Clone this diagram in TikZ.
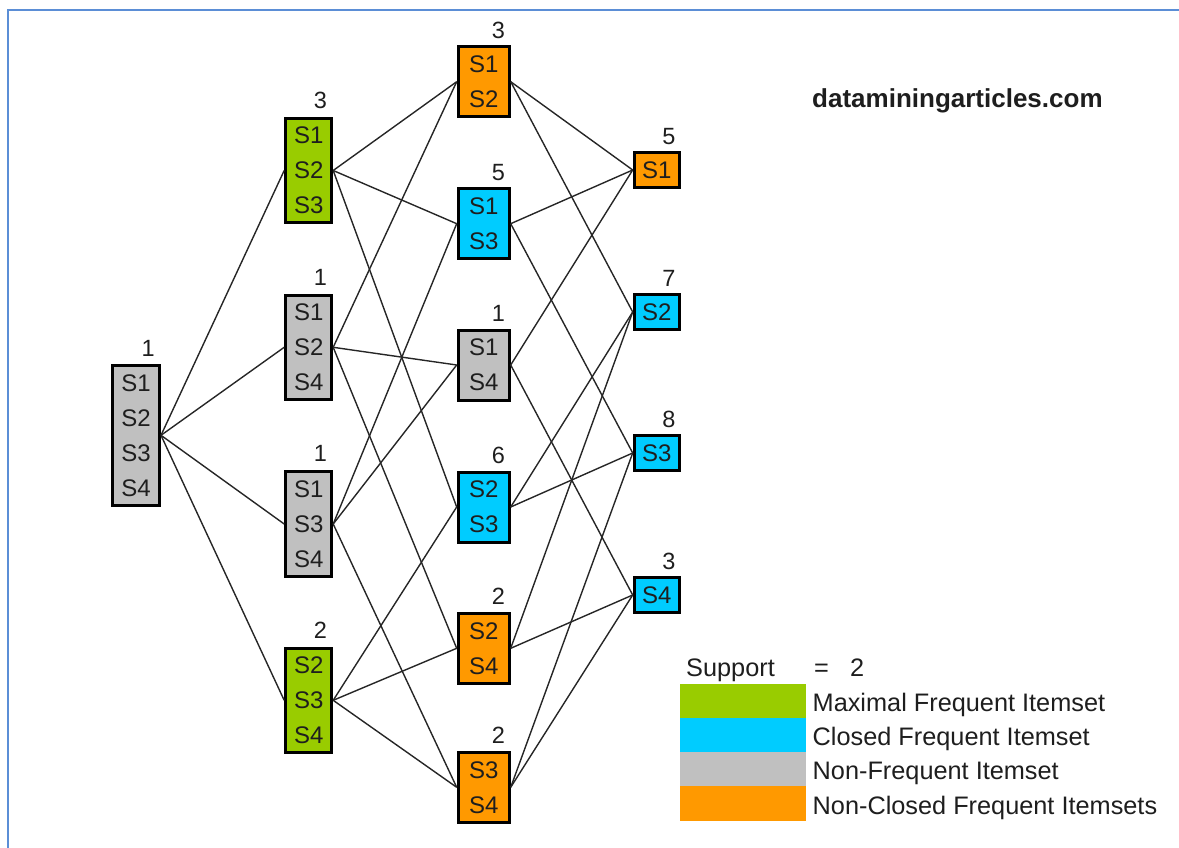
\documentclass[tikz,border=0pt]{standalone}
\usepackage{fontspec}
\setmainfont{Liberation Sans}
\usetikzlibrary{calc}
\definecolor{cgreen}{HTML}{99CC00}
\definecolor{ccyan}{HTML}{00CCFF}
\definecolor{cgray}{HTML}{C0C0C0}
\definecolor{corange}{HTML}{FF9900}
\definecolor{frameblue}{HTML}{5B8ED6}
\definecolor{inktext}{HTML}{1E1E1E}
\begin{document}
\begin{tikzpicture}[x=1pt,y=-1pt,
  setbox/.style={draw=black, line width=3pt, inner sep=0pt, align=center,
    font=\fontsize{24}{35}\selectfont, text=inktext},
  lvfour/.style={setbox, minimum width=47pt, minimum height=140pt},
  lvthree/.style={setbox, minimum width=46pt, minimum height=104.5pt},
  lvtwo/.style={setbox, minimum width=51pt, minimum height=70pt},
  lvone/.style={setbox, minimum width=45pt, minimum height=35pt},
  conn/.style={draw=black!85, line width=1.4pt},
  num/.style={anchor=base east, inner sep=0pt, font=\fontsize{23.5}{23.5}\selectfont, text=inktext},
  swatch/.style={inner sep=0pt, minimum width=125.7pt, minimum height=34.3pt},
  legtext/.style={anchor=base west, inner sep=0pt, font=\fontsize{25.3}{25.3}\selectfont, text=inktext}
]
\useasboundingbox (0,0) rectangle (1179,848);
% frame
\coordinate (ftr) at (1179,10);
\coordinate (ftl) at (8,10);
\coordinate (fbl) at (8,848);
\draw[frameblue, line width=2pt] (ftr) -- (ftl) -- (fbl);

% level 4
\node[lvfour, fill=cgray] (s1234) at (136,435.3) {S1\\S2\\S3\\S4};
% level 3
\node[lvthree, fill=cgreen] (s123) at (308.7,170.5) {S1\\S2\\S3};
\node[lvthree, fill=cgray]  (s124) at (308.7,347.3) {S1\\S2\\S4};
\node[lvthree, fill=cgray]  (s134) at (308.7,524) {S1\\S3\\S4};
\node[lvthree, fill=cgreen] (s234) at (308.7,700.3) {S2\\S3\\S4};
% level 2
\node[lvtwo, fill=corange] (s12) at (483.7,81.7) {S1\\S2};
\node[lvtwo, fill=ccyan]   (s13) at (483.7,223.7) {S1\\S3};
\node[lvtwo, fill=cgray]   (s14) at (483.7,365) {S1\\S4};
\node[lvtwo, fill=ccyan]   (s23) at (483.7,507) {S2\\S3};
\node[lvtwo, fill=corange] (s24) at (483.7,648.3) {S2\\S4};
\node[lvtwo, fill=corange] (s34) at (483.7,787.3) {S3\\S4};
% level 1
\node[lvone, fill=corange] (s1) at (656.7,170) {S1};
\node[lvone, fill=ccyan]   (s2) at (656.7,312) {S2};
\node[lvone, fill=ccyan]   (s3) at (656.7,453) {S3};
\node[lvone, fill=ccyan]   (s4) at (656.7,595) {S4};

% support numbers
\node[num] (n1234) at ($(s1234.north east)+(-6,-7.5)$) {1};
\node[num] (n123) at ($(s123.north east)+(-6,-8.5)$) {3};
\node[num] (n124) at ($(s124.north east)+(-6,-8.5)$) {1};
\node[num] (n134) at ($(s134.north east)+(-6,-8.5)$) {1};
\node[num] (n234) at ($(s234.north east)+(-6,-8.5)$) {2};
\node[num] (n12) at ($(s12.north east)+(-5.5,-7)$) {3};
\node[num] (n13) at ($(s13.north east)+(-5.5,-7)$) {5};
\node[num] (n14) at ($(s14.north east)+(-5.5,-7)$) {1};
\node[num] (n23) at ($(s23.north east)+(-5.5,-7)$) {6};
\node[num] (n24) at ($(s24.north east)+(-5.5,-7)$) {2};
\node[num] (n34) at ($(s34.north east)+(-5.5,-7)$) {2};
\node[num] (n1) at ($(s1.north east)+(-5,-6.5)$) {5};
\node[num] (n2) at ($(s2.north east)+(-5,-6.5)$) {7};
\node[num] (n3) at ($(s3.north east)+(-5,-6.5)$) {8};
\node[num] (n4) at ($(s4.north east)+(-5,-6.5)$) {3};

% connectors
\foreach \b in {s123,s124,s134,s234} \draw[conn] (s1234.east) -- (\b.west);
\foreach \b in {s12,s13,s23} \draw[conn] (s123.east) -- (\b.west);
\foreach \b in {s12,s14,s24} \draw[conn] (s124.east) -- (\b.west);
\foreach \b in {s13,s14,s34} \draw[conn] (s134.east) -- (\b.west);
\foreach \b in {s23,s24,s34} \draw[conn] (s234.east) -- (\b.west);
\foreach \b in {s1,s2} \draw[conn] (s12.east) -- (\b.west);
\foreach \b in {s1,s3} \draw[conn] (s13.east) -- (\b.west);
\foreach \b in {s1,s4} \draw[conn] (s14.east) -- (\b.west);
\foreach \b in {s2,s3} \draw[conn] (s23.east) -- (\b.west);
\foreach \b in {s2,s4} \draw[conn] (s24.east) -- (\b.west);
\foreach \b in {s3,s4} \draw[conn] (s34.east) -- (\b.west);

% site name
\node[anchor=base west, inner sep=0pt, font=\bfseries\fontsize{26}{26}\selectfont, text=inktext] (site) at (812,108) {dataminingarticles.com};

% legend
\node[legtext] (supp) at (686,676.7) {Support};
\node[legtext] (eq) at (814,676.7) {=};
\node[legtext] (two) at (850,676.7) {2};
\node[swatch, fill=cgreen]  (lg1) at (742.9,700.7) {};
\node[swatch, fill=ccyan]   (lg2) at (742.9,735) {};
\node[swatch, fill=cgray]   (lg3) at (742.9,769.3) {};
\node[swatch, fill=corange] (lg4) at (742.9,803.6) {};
\node[legtext] (t1) at (812.5,711.7) {Maximal Frequent Itemset};
\node[legtext] (t2) at (812.5,745.5) {Closed Frequent Itemset};
\node[legtext] (t3) at (812.5,779.5) {Non-Frequent Itemset};
\node[legtext] (t4) at (812.5,814) {Non-Closed Frequent Itemsets};
\end{tikzpicture}
\end{document}
